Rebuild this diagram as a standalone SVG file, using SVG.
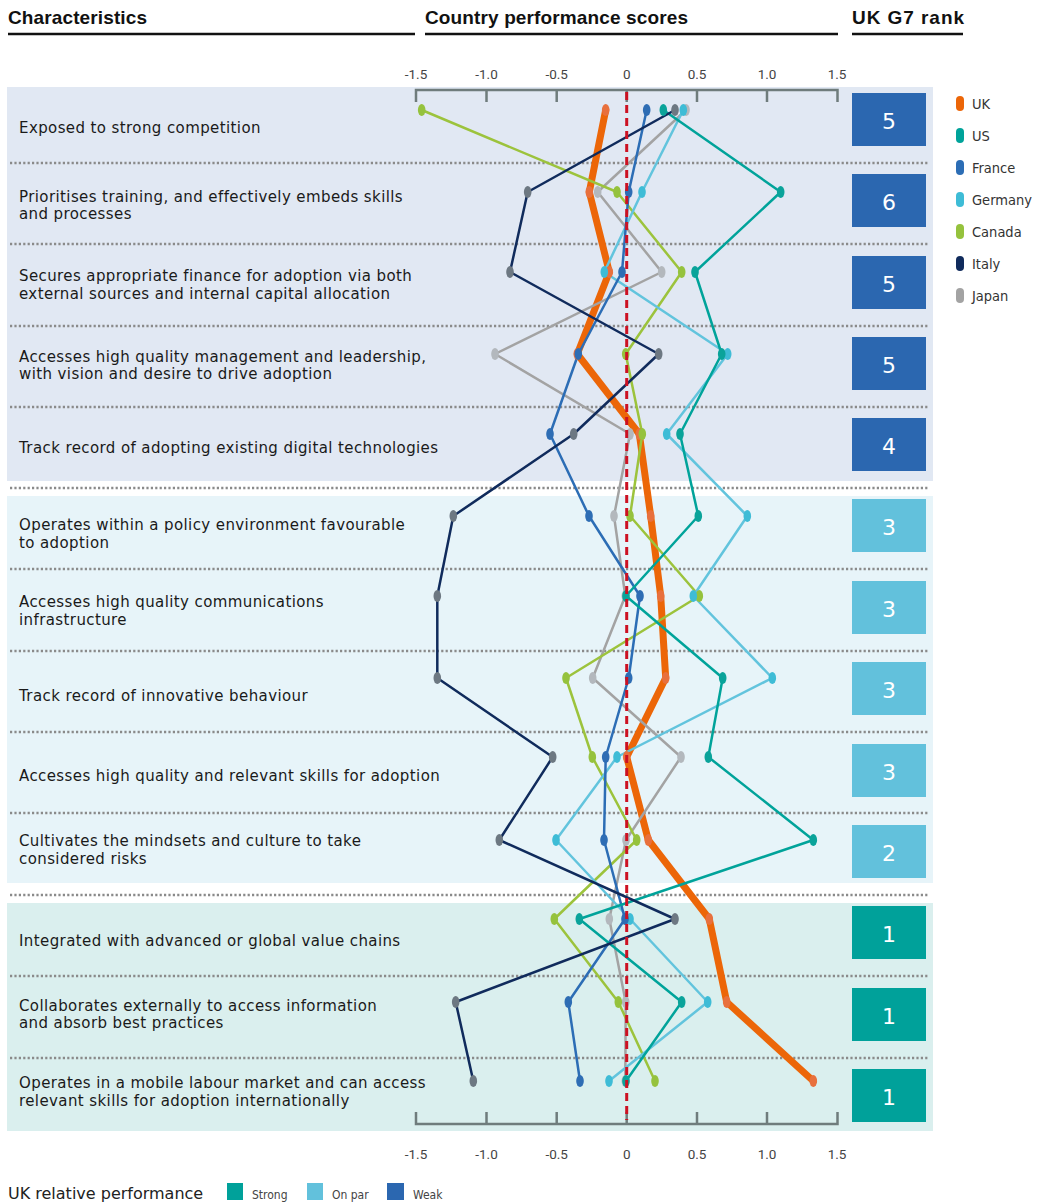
<svg xmlns="http://www.w3.org/2000/svg" width="1040" height="1204" viewBox="0 0 1040 1204">
<style>
.title{font-family:"Liberation Sans",Arial,sans-serif;font-weight:bold;font-size:19px;fill:#111}
.lab{font-family:"DejaVu Sans",sans-serif;font-size:15px;letter-spacing:0.4px;fill:#1a1a1a}
.ax{font-family:Roboto,"Liberation Sans",sans-serif;font-size:13.5px;fill:#444;text-anchor:middle}
.rank{font-family:"DejaVu Sans",sans-serif;font-size:22px;fill:#fff;text-anchor:middle}
.leg{font-family:"DejaVu Sans Condensed","DejaVu Sans",sans-serif;font-stretch:condensed;font-size:14.5px;fill:#333}
.sleg{font-family:"DejaVu Sans Condensed","DejaVu Sans",sans-serif;font-stretch:condensed;font-size:12px;fill:#444}
.sep{stroke:#8a8a8a;stroke-width:2.5;stroke-dasharray:2.2 2.2;fill:none}
.axis{stroke:#6f7c7c;stroke-width:2.5;fill:none}
.ln{fill:none;stroke-width:2.5;stroke-linejoin:round;stroke-linecap:round}
.uk{fill:none;stroke:#ec6608;stroke-width:7;stroke-linejoin:round;stroke-linecap:round}
.strong{fill:#00a19a}.onpar{fill:#62c1dc}.weak{fill:#2b67b0}
</style>
<defs>
<ellipse id="dot" cx="0" cy="0" rx="3.8" ry="6"/>
</defs>
<g id="headers">
<text class="title" x="8" y="23.5" textLength="139">Characteristics</text>
<line x1="8" y1="34" x2="415" y2="34" stroke="#111" stroke-width="2.3"/>
<text class="title" x="425" y="23.5" textLength="263">Country performance scores</text>
<line x1="425" y1="34" x2="838" y2="34" stroke="#111" stroke-width="2.3"/>
<text class="title" x="852" y="23.5" textLength="112">UK G7 rank</text>
<line x1="852" y1="34" x2="963" y2="34" stroke="#111" stroke-width="2.3"/>
</g>
<g id="sections">
<rect x="7" y="87" width="926" height="394" fill="#e1e8f3"/>
<rect x="7" y="496" width="926" height="387" fill="#e7f4f9"/>
<rect x="7" y="903" width="926" height="228" fill="#daefee"/>
</g>
<g id="separators">
<line class="sep" x1="10" y1="163" x2="928" y2="163"/>
<line class="sep" x1="10" y1="244" x2="928" y2="244"/>
<line class="sep" x1="10" y1="326" x2="928" y2="326"/>
<line class="sep" x1="10" y1="407" x2="928" y2="407"/>
<line class="sep" x1="10" y1="488" x2="928" y2="488"/>
<line class="sep" x1="10" y1="569" x2="928" y2="569"/>
<line class="sep" x1="10" y1="651" x2="928" y2="651"/>
<line class="sep" x1="10" y1="732" x2="928" y2="732"/>
<line class="sep" x1="10" y1="813" x2="928" y2="813"/>
<line class="sep" x1="10" y1="895" x2="928" y2="895"/>
<line class="sep" x1="10" y1="976" x2="928" y2="976"/>
<line class="sep" x1="10" y1="1058" x2="928" y2="1058"/>
</g>
<g id="labels">
<text class="lab" x="19" y="132.5">Exposed to strong competition</text>
<text class="lab" x="19" y="201.5">Prioritises training, and effectively embeds skills<tspan x="19" y="219">and processes</tspan></text>
<text class="lab" x="19" y="281">Secures appropriate finance for adoption via both<tspan x="19" y="298.5">external sources and internal capital allocation</tspan></text>
<text class="lab" x="19" y="361.5">Accesses high quality management and leadership,<tspan x="19" y="379">with vision and desire to drive adoption</tspan></text>
<text class="lab" x="19" y="453">Track record of adopting existing digital technologies</text>
<text class="lab" x="19" y="530">Operates within a policy environment favourable<tspan x="19" y="547.5">to adoption</tspan></text>
<text class="lab" x="19" y="607">Accesses high quality communications<tspan x="19" y="624.5">infrastructure</tspan></text>
<text class="lab" x="19" y="700.5">Track record of innovative behaviour</text>
<text class="lab" x="19" y="780.5">Accesses high quality and relevant skills for adoption</text>
<text class="lab" x="19" y="846">Cultivates the mindsets and culture to take<tspan x="19" y="863.5">considered risks</tspan></text>
<text class="lab" x="19" y="946">Integrated with advanced or global value chains</text>
<text class="lab" x="19" y="1010.5">Collaborates externally to access information<tspan x="19" y="1028">and absorb best practices</tspan></text>
<text class="lab" x="19" y="1088.3">Operates in a mobile labour market and can access<tspan x="19" y="1105.8">relevant skills for adoption internationally</tspan></text>
</g>
<g id="axes">
<path class="axis" d="M416,102 V90 H837.5 V102 M486.5,90 V102 M556.7,90 V102 M626.7,90 V102 M697,90 V102 M767,90 V102"/>
<path class="axis" d="M416,1112 V1124 H837.5 V1112 M486.5,1124 V1112 M556.7,1124 V1112 M626.7,1124 V1112 M697,1124 V1112 M767,1124 V1112"/>
<text class="ax" x="416" y="78.5">-1.5</text>
<text class="ax" x="486.5" y="78.5">-1.0</text>
<text class="ax" x="556.7" y="78.5">-0.5</text>
<text class="ax" x="626.7" y="78.5">0</text>
<text class="ax" x="697" y="78.5">0.5</text>
<text class="ax" x="767" y="78.5">1.0</text>
<text class="ax" x="837" y="78.5">1.5</text>
<text class="ax" x="416" y="1159">-1.5</text>
<text class="ax" x="486.5" y="1159">-1.0</text>
<text class="ax" x="556.7" y="1159">-0.5</text>
<text class="ax" x="626.7" y="1159">0</text>
<text class="ax" x="697" y="1159">0.5</text>
<text class="ax" x="767" y="1159">1.0</text>
<text class="ax" x="837" y="1159">1.5</text>
</g>
<g id="connectors">
<polyline class="uk" points="605.7,110 589.3,192 609.3,272 577.3,354 639.3,434 650.7,516 660.7,596 665.7,678 626.7,757 648.3,840 709.3,919 726.7,1002 813.3,1081"/>
<polyline class="ln" stroke="#a3a3a3" points="686,110 597.7,192 661.7,272 495,354 630,434 614,516 625.3,596 592.7,678 681,757 626,840 609.3,919 625.7,1002 625.3,1081"/>
<polyline class="ln" stroke="#9cc33c" points="421.7,110 617,192 681.7,272 625.7,354 642.3,434 630,516 699.3,596 566,678 592.3,757 636.7,840 554.3,919 618.3,1002 655,1081"/>
<polyline class="ln" stroke="#62c4dd" points="683.3,110 642,192 604.3,272 727.7,354 666.7,434 747.3,516 693.3,596 772.3,678 617,757 556,840 630,919 707.7,1002 609,1081"/>
<polyline class="ln" stroke="#2c6db5" points="646.7,110 628.7,192 622,272 578.3,354 550,434 589,516 640,596 628.7,678 605.7,757 604,840 625,919 568.3,1002 580,1081"/>
<polyline class="ln" stroke="#00a39a" points="663.3,110 780.7,192 695,272 721.7,354 680,434 698.3,516 626,596 722.7,678 708.3,757 813.3,840 579.3,919 681.7,1002 626,1081"/>
<polyline class="ln" stroke="#102b5c" points="675,110 527.7,192 510,272 658.7,354 573.7,434 453.3,516 437.3,596 437.3,678 552.7,757 499.3,840 675,919 455.7,1002 473.3,1081"/>
</g>
<g id="points">
<g id="pts-uk" fill="#e8703d">
<use href="#dot" x="605.7" y="110"/><use href="#dot" x="589.3" y="192"/><use href="#dot" x="609.3" y="272"/><use href="#dot" x="577.3" y="354"/><use href="#dot" x="639.3" y="434"/><use href="#dot" x="650.7" y="516"/><use href="#dot" x="660.7" y="596"/><use href="#dot" x="665.7" y="678"/><use href="#dot" x="626.7" y="757"/><use href="#dot" x="648.3" y="840"/><use href="#dot" x="709.3" y="919"/><use href="#dot" x="726.7" y="1002"/><use href="#dot" x="813.3" y="1081"/>
</g>
<g id="pts-japan" fill="#b3b8bd">
<use href="#dot" x="686" y="110"/><use href="#dot" x="597.7" y="192"/><use href="#dot" x="661.7" y="272"/><use href="#dot" x="495" y="354"/><use href="#dot" x="630" y="434"/><use href="#dot" x="614" y="516"/><use href="#dot" x="625.3" y="596"/><use href="#dot" x="592.7" y="678"/><use href="#dot" x="681" y="757"/><use href="#dot" x="626" y="840"/><use href="#dot" x="609.3" y="919"/><use href="#dot" x="625.7" y="1002"/><use href="#dot" x="625.3" y="1081"/>
</g>
<g id="pts-canada" fill="#95c23d">
<use href="#dot" x="421.7" y="110"/><use href="#dot" x="617" y="192"/><use href="#dot" x="681.7" y="272"/><use href="#dot" x="625.7" y="354"/><use href="#dot" x="642.3" y="434"/><use href="#dot" x="630" y="516"/><use href="#dot" x="699.3" y="596"/><use href="#dot" x="566" y="678"/><use href="#dot" x="592.3" y="757"/><use href="#dot" x="636.7" y="840"/><use href="#dot" x="554.3" y="919"/><use href="#dot" x="618.3" y="1002"/><use href="#dot" x="655" y="1081"/>
</g>
<g id="pts-germany" fill="#3ebcd6">
<use href="#dot" x="683.3" y="110"/><use href="#dot" x="642" y="192"/><use href="#dot" x="604.3" y="272"/><use href="#dot" x="727.7" y="354"/><use href="#dot" x="666.7" y="434"/><use href="#dot" x="747.3" y="516"/><use href="#dot" x="693.3" y="596"/><use href="#dot" x="772.3" y="678"/><use href="#dot" x="617" y="757"/><use href="#dot" x="556" y="840"/><use href="#dot" x="630" y="919"/><use href="#dot" x="707.7" y="1002"/><use href="#dot" x="609" y="1081"/>
</g>
<g id="pts-france" fill="#2e6db4">
<use href="#dot" x="646.7" y="110"/><use href="#dot" x="628.7" y="192"/><use href="#dot" x="622" y="272"/><use href="#dot" x="578.3" y="354"/><use href="#dot" x="550" y="434"/><use href="#dot" x="589" y="516"/><use href="#dot" x="640" y="596"/><use href="#dot" x="628.7" y="678"/><use href="#dot" x="605.7" y="757"/><use href="#dot" x="604" y="840"/><use href="#dot" x="625" y="919"/><use href="#dot" x="568.3" y="1002"/><use href="#dot" x="580" y="1081"/>
</g>
<g id="pts-us" fill="#0aa39a">
<use href="#dot" x="663.3" y="110"/><use href="#dot" x="780.7" y="192"/><use href="#dot" x="695" y="272"/><use href="#dot" x="721.7" y="354"/><use href="#dot" x="680" y="434"/><use href="#dot" x="698.3" y="516"/><use href="#dot" x="626" y="596"/><use href="#dot" x="722.7" y="678"/><use href="#dot" x="708.3" y="757"/><use href="#dot" x="813.3" y="840"/><use href="#dot" x="579.3" y="919"/><use href="#dot" x="681.7" y="1002"/><use href="#dot" x="626" y="1081"/>
</g>
<g id="pts-italy" fill="#6d7882">
<use href="#dot" x="675" y="110"/><use href="#dot" x="527.7" y="192"/><use href="#dot" x="510" y="272"/><use href="#dot" x="658.7" y="354"/><use href="#dot" x="573.7" y="434"/><use href="#dot" x="453.3" y="516"/><use href="#dot" x="437.3" y="596"/><use href="#dot" x="437.3" y="678"/><use href="#dot" x="552.7" y="757"/><use href="#dot" x="499.3" y="840"/><use href="#dot" x="675" y="919"/><use href="#dot" x="455.7" y="1002"/><use href="#dot" x="473.3" y="1081"/>
</g>
</g>
<line id="zero-line" x1="626.7" y1="92" x2="626.7" y2="1120" stroke="#cc1122" stroke-width="3" stroke-dasharray="8 5"/>
<g id="ranks">
<g id="rank-1"><rect class="weak" x="852" y="93" width="74" height="53"/><text class="rank" x="889" y="129">5</text></g>
<g id="rank-2"><rect class="weak" x="852" y="174" width="74" height="53"/><text class="rank" x="889" y="210">6</text></g>
<g id="rank-3"><rect class="weak" x="852" y="256" width="74" height="53"/><text class="rank" x="889" y="292">5</text></g>
<g id="rank-4"><rect class="weak" x="852" y="337" width="74" height="53"/><text class="rank" x="889" y="373">5</text></g>
<g id="rank-5"><rect class="weak" x="852" y="418" width="74" height="53"/><text class="rank" x="889" y="454">4</text></g>
<g id="rank-6"><rect class="onpar" x="852" y="499" width="74" height="53"/><text class="rank" x="889" y="535">3</text></g>
<g id="rank-7"><rect class="onpar" x="852" y="581" width="74" height="53"/><text class="rank" x="889" y="617">3</text></g>
<g id="rank-8"><rect class="onpar" x="852" y="662" width="74" height="53"/><text class="rank" x="889" y="698">3</text></g>
<g id="rank-9"><rect class="onpar" x="852" y="744" width="74" height="53"/><text class="rank" x="889" y="780">3</text></g>
<g id="rank-10"><rect class="onpar" x="852" y="825" width="74" height="53"/><text class="rank" x="889" y="861">2</text></g>
<g id="rank-11"><rect class="strong" x="852" y="906" width="74" height="53"/><text class="rank" x="889" y="942">1</text></g>
<g id="rank-12"><rect class="strong" x="852" y="988" width="74" height="53"/><text class="rank" x="889" y="1024">1</text></g>
<g id="rank-13"><rect class="strong" x="852" y="1069" width="74" height="53"/><text class="rank" x="889" y="1105">1</text></g>
</g>
<g id="country-legend">
<rect x="956" y="96" width="8" height="15" rx="4" fill="#ec6608"/><text class="leg" x="972" y="109">UK</text>
<rect x="956" y="128" width="8" height="15" rx="4" fill="#00a39a"/><text class="leg" x="972" y="141">US</text>
<rect x="956" y="160" width="8" height="15" rx="4" fill="#2c6db5"/><text class="leg" x="972" y="173">France</text>
<rect x="956" y="192" width="8" height="15" rx="4" fill="#3ebcd6"/><text class="leg" x="972" y="205">Germany</text>
<rect x="956" y="224" width="8" height="15" rx="4" fill="#95c23d"/><text class="leg" x="972" y="237">Canada</text>
<rect x="956" y="256" width="8" height="15" rx="4" fill="#102b5c"/><text class="leg" x="972" y="269">Italy</text>
<rect x="956" y="288" width="8" height="15" rx="4" fill="#a3a3a3"/><text class="leg" x="972" y="301">Japan</text>
</g>
<g id="performance-legend">
<text x="8" y="1199" font-family="DejaVu Sans,sans-serif" font-size="16" fill="#222">UK relative performance</text>
<rect class="strong" x="227" y="1183" width="16" height="17"/><text class="sleg" x="252" y="1199">Strong</text>
<rect class="onpar" x="307" y="1183" width="16" height="17"/><text class="sleg" x="332" y="1199">On par</text>
<rect class="weak" x="387" y="1183" width="17" height="17"/><text class="sleg" x="413" y="1199">Weak</text>
</g>
</svg>
